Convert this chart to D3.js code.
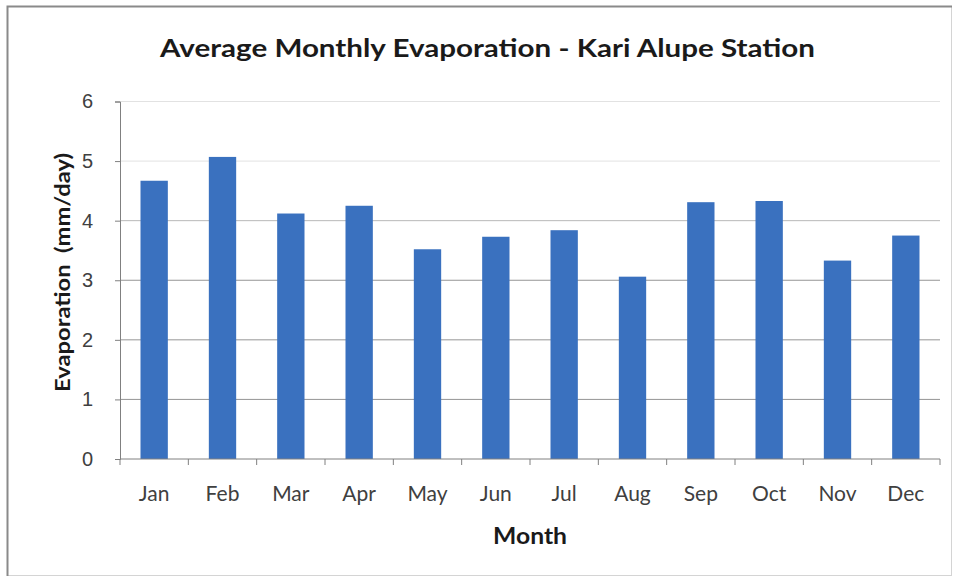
<!DOCTYPE html>
<html>
<head>
<meta charset="utf-8">
<script src="https://cdn.jsdelivr.net/npm/d3@7"></script>
<style>
  body { margin: 0; background: #fff; }
  svg { display: block; font-family: Lato, "Open Sans", sans-serif; }
</style>
</head>
<body>
<svg></svg>
<script>
var width = 957;
var height = 582;

// data
var months = ["Jan", "Feb", "Mar", "Apr", "May", "Jun", "Jul", "Aug", "Sep", "Oct", "Nov", "Dec"];
var evaporation = [4.67, 5.07, 4.12, 4.25, 3.52, 3.73, 3.84, 3.06, 4.31, 4.33, 3.33, 3.75];
var yTicks = [0, 1, 2, 3, 4, 5, 6];

var margin = {top: 101.5, left: 120, right: 17, bottom: 123};

var svg = d3.select('svg')
    .attr('width', width)
    .attr('height', height);

// chart frame, darker on top/left like the scanned one
svg.append('rect')
    .attr('x', 7.5).attr('y', 6.5)
    .attr('width', 944).attr('height', 569)
    .attr('fill', '#fff')
    .attr('stroke', '#d4d4d4');
svg.append('path')
    .attr('d', 'M7.5,576 V6.5 H952')
    .attr('fill', 'none')
    .attr('stroke', '#8a8a8a')
    .attr('stroke-width', 2);

var x = d3.scaleBand()
    .domain(months)
    .range([margin.left, width - margin.right])
    .paddingInner(0.6)
    .paddingOuter(0.3);

var y = d3.scaleLinear()
    .domain([0, 6])
    .range([height - margin.bottom, margin.top]);

// gridlines (upper ones fade out in the scan)
svg.append('g')
    .selectAll('line')
    .data(yTicks.filter(d => d > 0))
    .enter()
    .append('line')
        .attr('x1', margin.left)
        .attr('x2', width - margin.right)
        .attr('y1', d => y(d))
        .attr('y2', d => y(d))
        .attr('stroke', d => d >= 5 ? '#e2e2e2' : d == 4 ? '#b8b8b8' : '#959595')
        .attr('stroke-width', 1);

// bars
svg.append('g')
    .selectAll('rect')
    .data(evaporation)
    .enter()
    .append('rect')
        .attr('x', (d, i) => x(months[i]))
        .attr('y', d => y(d))
        .attr('width', x.bandwidth())
        .attr('height', d => y(0) - y(d))
        .attr('fill', '#3a71bf');

// y axis
var yAxis = svg.append('g')
    .attr('transform', 'translate(' + margin.left + ',0)')
    .call(d3.axisLeft(y).tickValues(yTicks).tickSize(5).tickPadding(22).tickFormat(d3.format('d')));
yAxis.select('.domain').attr('stroke', '#808080');
yAxis.selectAll('.tick line').attr('stroke', '#808080');
yAxis.selectAll('text')
    .attr('font-size', 20)
    .attr('fill', '#404040');

// x axis, ticks between the categories
var xAxis = svg.append('g')
    .attr('transform', 'translate(0,' + y(0) + ')');
xAxis.append('line')
    .attr('x1', margin.left).attr('x2', width - margin.right)
    .attr('stroke', '#808080');
var step = (width - margin.right - margin.left) / months.length;
xAxis.selectAll('.tk')
    .data(d3.range(months.length + 1))
    .enter()
    .append('line')
        .attr('class', 'tk')
        .attr('x1', i => margin.left + i * step)
        .attr('x2', i => margin.left + i * step)
        .attr('y1', 0).attr('y2', 6)
        .attr('stroke', '#808080');
xAxis.selectAll('.lbl')
    .data(months)
    .enter()
    .append('text')
        .attr('x', d => x(d) + x.bandwidth() / 2)
        .attr('y', 42)
        .attr('text-anchor', 'middle')
        .attr('font-size', 21)
        .attr('fill', '#404040')
        .text(d => d);

// titles
svg.append('text')
    .attr('x', 487.5).attr('y', 57)
    .attr('text-anchor', 'middle')
    .attr('font-size', 25)
    .attr('font-weight', 'bold')
    .attr('fill', '#1a1a1a')
    .attr('textLength', 655)
    .attr('lengthAdjust', 'spacingAndGlyphs')
    .text('Average Monthly Evaporation - Kari Alupe Station');

svg.append('text')
    .attr('x', 530).attr('y', 544)
    .attr('text-anchor', 'middle')
    .attr('font-size', 22)
    .attr('font-weight', 'bold')
    .attr('fill', '#1a1a1a')
    .attr('textLength', 74)
    .attr('lengthAdjust', 'spacingAndGlyphs')
    .text('Month');

svg.append('text')
    .attr('transform', 'translate(70,272.5) rotate(-90)')
    .attr('text-anchor', 'middle')
    .attr('font-size', 20)
    .attr('font-weight', 'bold')
    .attr('fill', '#1a1a1a')
    .attr('textLength', 239)
    .attr('lengthAdjust', 'spacingAndGlyphs')
    .style('white-space', 'pre')
    .text('Evaporation  (mm/day)');
</script>
</body>
</html>
